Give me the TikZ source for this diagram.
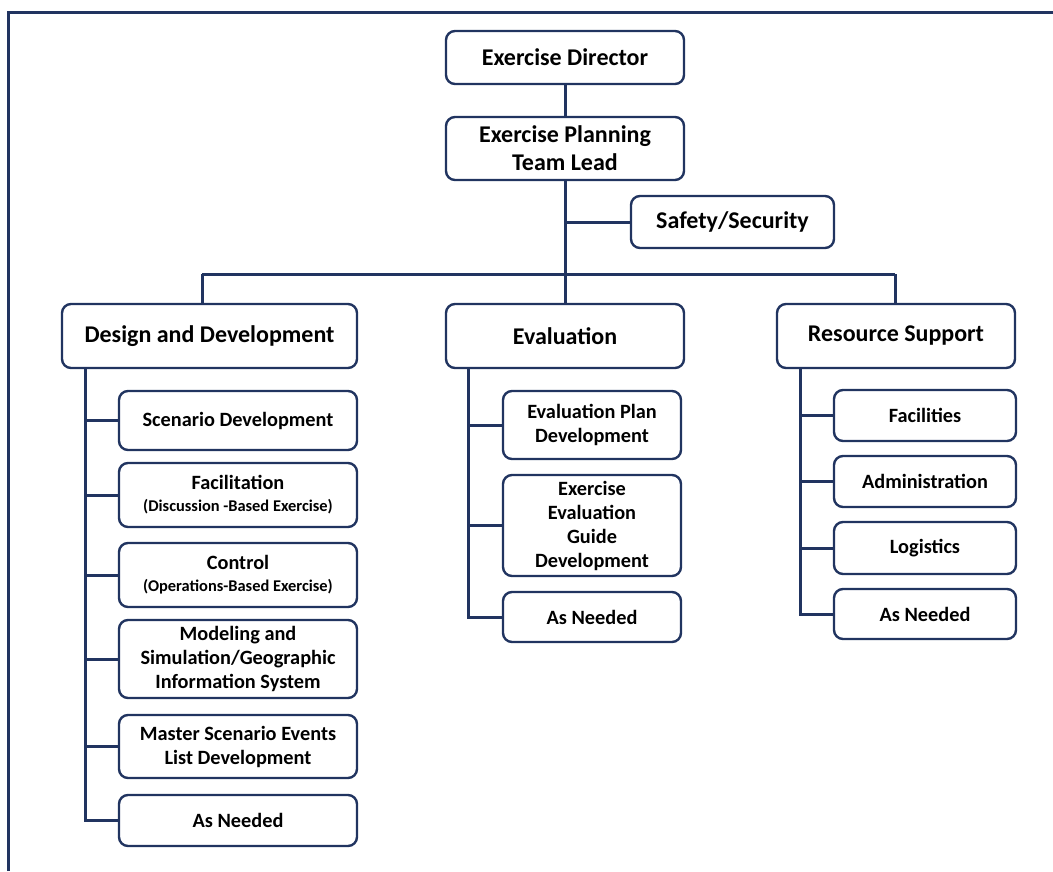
\documentclass[tikz,border=0pt]{standalone}
\usepackage{fontspec}
\setmainfont{Carlito}
\definecolor{navy}{RGB}{33,52,96}
\begin{document}
\begin{tikzpicture}[x=1pt,y=-1pt,
  box/.style={draw=navy, line width=2.4pt, rounded corners=9pt, fill=white,
    inner sep=0pt, align=center, text=black},
  topbox/.style={box, font=\fontsize{24}{28}\selectfont\bfseries},
  subbox/.style={box, font=\fontsize{20.3}{24}\selectfont\bfseries},
  conn/.style={draw=navy, line width=3pt}]
\useasboundingbox (0,0) rectangle (1053,871);
\draw[navy, line width=3pt] (8.5,871) -- (8.5,12.5) -- (1053,12.5);

% top
\node[topbox, minimum width=238pt, minimum height=53pt] (ed) at (565,57.5) {Exercise Director};
\node[topbox, minimum width=238pt, minimum height=63pt] (eptl) at (565,148.5) {Exercise Planning\\Team Lead};
\node[topbox, minimum width=203pt, minimum height=52pt] (saf) at (732.5,222) {Safety/Security};
\node[topbox, minimum width=295pt, minimum height=64pt] (dd) at (209.5,336) {Design and Development};
\node[topbox, minimum width=238pt, minimum height=64pt] (ev) at (565,336) {Evaluation};
\node[topbox, minimum width=238pt, minimum height=64pt] (rs) at (896,336) {Resource Support};

% design and development children
\node[subbox, minimum width=238pt, minimum height=59pt] (sd) at (238,420.5) {Scenario Development};
\node[subbox, minimum width=238pt, minimum height=64pt] (fac) at (238,495) {Facilitation\\[-2pt]{\fontsize{16.4}{18}\selectfont (Discussion -Based Exercise)}};
\node[subbox, minimum width=238pt, minimum height=64pt] (ctl) at (238,575) {Control\\[-2pt]{\fontsize{16.4}{18}\selectfont (Operations-Based Exercise)}};
\node[subbox, minimum width=238pt, minimum height=78pt] (mod) at (238,659) {Modeling and\\Simulation/Geographic\\Information System};
\node[subbox, minimum width=238pt, minimum height=63pt] (mse) at (238,746.5) {Master Scenario Events\\List Development};
\node[subbox, minimum width=238pt, minimum height=51pt] (an1) at (238,820.5) {As Needed};

% evaluation children
\node[subbox, minimum width=178pt, minimum height=68pt] (epd) at (592,425) {Evaluation Plan\\Development};
\node[subbox, minimum width=178pt, minimum height=101pt] (eeg) at (592,525.5) {Exercise\\Evaluation\\Guide\\Development};
\node[subbox, minimum width=178pt, minimum height=50pt] (an2) at (592,617) {As Needed};

% resource support children
\node[subbox, minimum width=182pt, minimum height=51pt] (fac2) at (925,415.5) {Facilities};
\node[subbox, minimum width=182pt, minimum height=51pt] (adm) at (925,481.5) {Administration};
\node[subbox, minimum width=182pt, minimum height=52pt] (log) at (925,548) {Logistics};
\node[subbox, minimum width=182pt, minimum height=50pt] (an3) at (925,614) {As Needed};

% connectors top
\draw[conn] (ed) -- (eptl);
\draw[conn] (eptl) -- (ev);
\draw[conn] (eptl.south |- saf.west) -- (saf.west);
\coordinate (busL) at (202,274);
\coordinate (busR) at (895,274);
\draw[conn] (busL) -- (busR);
\draw[conn] (busL) -- (busL |- dd.north);
\draw[conn] (busR) -- (busR |- rs.north);

% spines
\coordinate (sp1) at (85,0);
\coordinate (sp2) at (468,0);
\coordinate (sp3) at (800,0);
\draw[conn] (sp1 |- dd.south) |- (an1.west);
\foreach \n in {sd,fac,ctl,mod,mse} \draw[conn] (sp1 |- \n.west) -- (\n.west);
\draw[conn] (sp2 |- ev.south) |- (an2.west);
\foreach \n in {epd,eeg} \draw[conn] (sp2 |- \n.west) -- (\n.west);
\draw[conn] (sp3 |- rs.south) |- (an3.west);
\foreach \n in {fac2,adm,log} \draw[conn] (sp3 |- \n.west) -- (\n.west);
\end{tikzpicture}
\end{document}
